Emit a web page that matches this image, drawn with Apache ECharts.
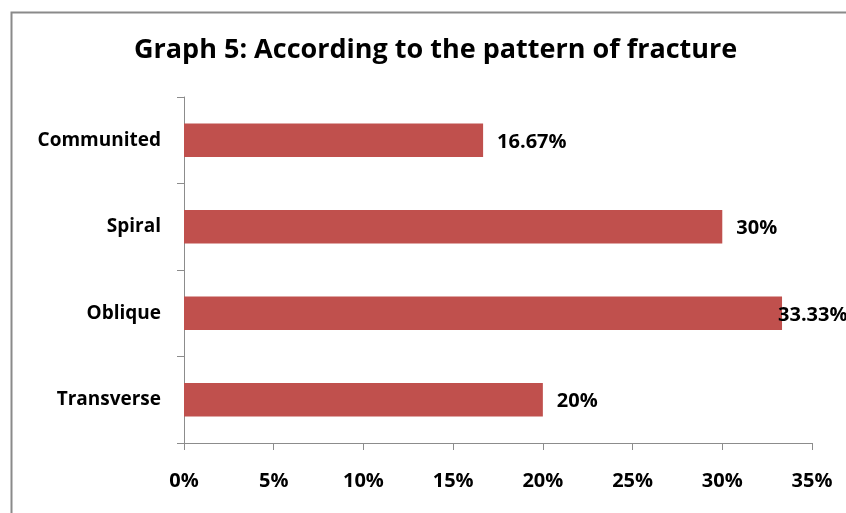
<!DOCTYPE html>
<html>
<head>
<meta charset="utf-8">
<script src="https://cdn.jsdelivr.net/npm/echarts@6/dist/echarts.min.js"></script>
<style>html,body{margin:0;padding:0;background:#fff;}#c{width:846px;height:513px;}</style>
</head>
<body>
<div id="c"></div>
<script>
const categories = ['Transverse', 'Oblique', 'Spiral', 'Communited'];
const values = [20, 33.33, 30, 16.67];
const xTicks = [0, 5, 10, 15, 20, 25, 30, 35];
const titleText = 'Graph 5: According to the pattern of fracture';

const chart = echarts.init(document.getElementById('c'));
const font = '"Open Sans", "DejaVu Sans", sans-serif';
const axisColor = '#8c8c8c';
chart.setOption({
  animation: false,
  backgroundColor: '#fff',
  title: {
    text: titleText, left: 129, top: 32,
    textStyle: { fontFamily: font, fontSize: 27, fontWeight: 'bold', color: '#000' }
  },
  graphic: [{
    type: 'rect', left: 9, top: 10, shape: { width: 900, height: 600 },
    style: { fill: 'none', stroke: '#8a8a8a', lineWidth: 2 }, z: 100
  }],
  grid: { left: 184, right: 34, top: 97, bottom: 70 },
  xAxis: {
    type: 'value', min: xTicks[0], max: xTicks[xTicks.length - 1], interval: 5,
    axisLine: { show: true, lineStyle: { color: axisColor } },
    axisTick: { show: true, length: 7, lineStyle: { color: axisColor } },
    splitLine: { show: false },
    axisLabel: { formatter: '{value}%', margin: 28, fontFamily: font, fontSize: 20, fontWeight: 'bold', color: '#000' }
  },
  yAxis: {
    type: 'category', data: categories,
    axisLine: { show: true, lineStyle: { color: axisColor } },
    axisTick: { show: true, length: 7, alignWithLabel: false, lineStyle: { color: axisColor } },
    axisLabel: { margin: 23, fontFamily: font, fontSize: 19, fontWeight: 'bold', color: '#000' }
  },
  series: [{
    type: 'bar', barWidth: '39%',
    itemStyle: { color: '#C0504D' },
    data: values.map((v, i) => ({
      value: v,
      label: categories[i] === 'Oblique' ? { offset: [-18, 2] } : {}
    })),
    label: {
      show: true, position: 'right', distance: 14, offset: [0, 2],
      formatter: p => p.value + '%',
      fontFamily: font, fontSize: 20, fontWeight: 'bold', color: '#000'
    }
  }]
});
</script>
</body>
</html>
